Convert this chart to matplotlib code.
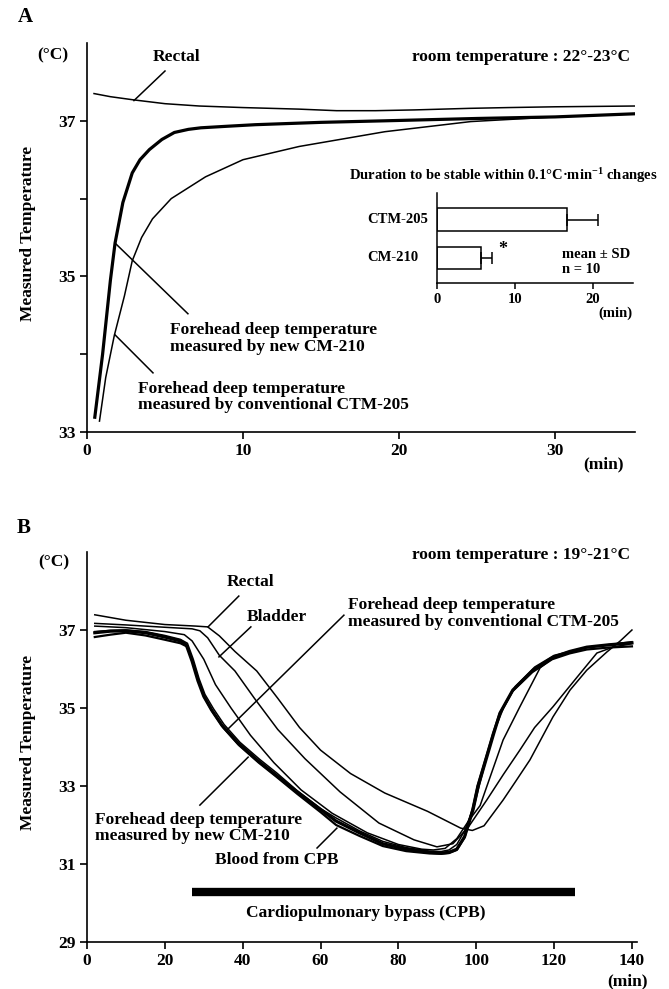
import matplotlib
matplotlib.use("Agg")
import matplotlib.pyplot as plt

plt.rcParams['font.family'] = ['Liberation Serif', 'DejaVu Serif']
plt.rcParams['font.weight'] = 'bold'
plt.rcParams['mathtext.fontset'] = 'custom'
plt.rcParams['mathtext.rm'] = 'Liberation Serif:bold'
plt.rcParams['mathtext.it'] = 'Liberation Serif:bold'
plt.rcParams['mathtext.default'] = 'rm'

# ---- panel A data (min, degC) ----
a_rectal_t = [0.45, 1.5, 2.95, 5.0, 7.2, 10.0, 13.6, 16.0, 18.5, 21.0, 24.5, 27.0, 30.0, 35.1]
a_rectal_y = [37.35, 37.31, 37.27, 37.22, 37.19, 37.17, 37.15, 37.13, 37.13, 37.14, 37.16, 37.17, 37.18, 37.19]
a_cm210_t = [0.5, 1.0, 1.5, 1.8, 2.3, 2.9, 3.4, 4.0, 4.8, 5.6, 6.5, 7.3, 9.0, 10.8, 15.0, 19.1, 25.0, 30.0, 35.1]
a_cm210_y = [33.19, 34.0, 34.95, 35.43, 35.95, 36.33, 36.5, 36.63, 36.76, 36.85, 36.89, 36.91, 36.93, 36.95, 36.98, 37.0, 37.03, 37.05, 37.09]
a_ctm205_t = [0.8, 1.2, 1.75, 2.4, 2.9, 3.5, 4.2, 5.4, 7.6, 10.0, 13.6, 19.1, 24.6, 30.0, 35.1]
a_ctm205_y = [33.14, 33.7, 34.24, 34.75, 35.2, 35.5, 35.74, 36.0, 36.28, 36.5, 36.67, 36.86, 36.99, 37.05, 37.09]

# inset: time to stabilise
inset_names = ['CM-210', 'CTM-205']
inset_mean = [5.6, 16.6]
inset_sd = [1.4, 4.0]

# ---- panel B data (min, degC) ----
b_rectal_t = [2, 10, 20, 28, 31, 34, 38, 43.6, 49, 54.6, 60, 67.7, 76.5, 87.5, 96, 99, 102, 106.9, 110,
              113.8, 119.7, 124.1, 128.4, 133.6, 137, 140]
b_rectal_y = [37.39, 37.25, 37.14, 37.1, 37.08, 36.85, 36.45, 35.95, 35.25, 34.5, 33.92, 33.32, 32.82, 32.35,
              31.92, 31.86, 31.98, 32.64, 33.1, 33.67, 34.77, 35.46, 35.97, 36.44, 36.72, 37.0]
b_bladder_t = [2, 10, 20, 27, 29, 31, 34, 38, 43, 49, 56, 65, 75, 84, 89.9, 94, 98, 102.7, 107, 111.2, 115,
               119.7, 125.9, 131, 135.1, 140]
b_bladder_y = [37.17, 37.13, 37.07, 37.03, 36.98, 36.8, 36.35, 35.95, 35.25, 34.45, 33.7, 32.85, 32.05, 31.62,
               31.44, 31.52, 31.95, 32.64, 33.3, 33.92, 34.5, 35.03, 35.79, 36.41, 36.56, 36.65]
b_other_t = [2, 10, 20, 25, 27, 30, 33, 37, 42, 48, 55, 63, 72, 80, 86, 89, 92, 95, 98, 101, 106.9, 111.2,
             116.4, 120, 128, 140]
b_other_y = [37.1, 37.06, 36.96, 36.88, 36.72, 36.25, 35.6, 35.0, 34.3, 33.6, 32.9, 32.3, 31.8, 31.5, 31.38,
             31.36, 31.4, 31.65, 32.1, 32.5, 34.18, 35.03, 36.03, 36.3, 36.55, 36.68]
b_ctm205_t = [2, 6, 10, 15, 20, 24, 25.8, 27.3, 28.8, 30.3, 32.5, 35.2, 39.3, 44.4, 48.8, 54, 60, 64,
              70, 76, 82, 88, 91, 93, 95, 97, 99.5, 101, 103, 105, 107, 110, 115, 120, 128, 140]
b_ctm205_y = [36.96, 36.99, 37.0, 36.96, 36.86, 36.76, 36.66, 36.25, 35.75, 35.35, 34.98, 34.58, 34.12, 33.68,
              33.33, 32.88, 32.42, 32.18, 31.85, 31.58, 31.42, 31.33, 31.32, 31.36, 31.5, 31.85, 32.5, 33.1,
              33.85, 34.5, 35.0, 35.55, 36.05, 36.35, 36.55, 36.7]
b_cm210_t = [2, 6, 10, 15, 20, 24, 25.5, 27, 28.5, 30, 32, 34.7, 38.8, 43.9, 48.3, 54, 60, 64, 70, 76, 82,
             88, 91, 93, 95, 97, 99.2, 100.5, 102.7, 104.5, 106.1, 109.4, 114.6, 119.7, 124, 128.4, 134, 140]
b_cm210_y = [36.93, 36.97, 36.98, 36.93, 36.82, 36.72, 36.62, 36.2, 35.7, 35.3, 34.95, 34.55, 34.1, 33.65,
             33.3, 32.85, 32.4, 32.1, 31.8, 31.52, 31.38, 31.3, 31.28, 31.3, 31.38, 31.7, 32.4, 33.0, 33.74,
             34.35, 34.87, 35.46, 35.97, 36.3, 36.45, 36.56, 36.62, 36.67]
b_blood_t = [2, 6, 10, 15, 20, 24, 25.8, 27.3, 28.8, 30.3, 32.3, 35.0, 39.0, 44.1, 48.5, 54, 60, 64, 70, 76,
             82, 88, 91, 93, 95, 97, 99, 100.3, 102.5, 104.3, 106, 109.2, 114.4, 119.5, 124, 128.4, 134, 140]
b_blood_y = [36.82, 36.88, 36.93, 36.86, 36.75, 36.66, 36.57, 36.15, 35.65, 35.25, 34.9, 34.5, 34.05, 33.6,
             33.25, 32.8, 32.33, 32.0, 31.72, 31.46, 31.33, 31.27, 31.26, 31.28, 31.36, 31.68, 32.4, 33.0,
             33.74, 34.35, 34.85, 35.42, 35.92, 36.25, 36.4, 36.5, 36.55, 36.58]
cpb_start, cpb_end, cpb_level = 26.9, 125.4, 30.29

W, H = 669, 989


def fx(px):
    return px / W


def fy(py):
    return 1 - py / H


fig = plt.figure(figsize=(W / 100, H / 100), dpi=100)


def style_axes(ax):
    for s in ['top', 'right']:
        ax.spines[s].set_visible(False)
    for s in ['left', 'bottom']:
        ax.spines[s].set_linewidth(1.2)
    ax.tick_params(direction='out', length=5, width=1.2, labelsize=12.5, pad=3)
    ax.tick_params(which='minor', direction='out', length=5, width=1.2)


# ================= panel A =================
axA = fig.add_axes([fx(87), fy(432), fx(635) - fx(87), fy(43) - fy(432)])
style_axes(axA)
axA.set_xlim(0, 35.13)
axA.set_ylim(33, 38)
axA.set_xticks([0, 10, 20, 30])
axA.set_yticks([33, 35, 37])
axA.set_yticks([34, 36], minor=True)

axA.plot(a_rectal_t, a_rectal_y, color='black', lw=1.1)
axA.plot(a_ctm205_t, a_ctm205_y, color='black', lw=1.1)
axA.plot(a_cm210_t, a_cm210_y, color='black', lw=2.3)

lead = dict(color='black', lw=1.1)
axA.plot([5.0, 3.01], [37.64, 37.26], **lead)
axA.plot([1.79, 6.47], [35.43, 34.52], **lead)
axA.plot([1.79, 4.23], [34.25, 33.76], **lead)
axA.text(5.77, 37.82, 'Rectal', ha='center', va='center', fontsize=12.5)
axA.text(34.8, 37.82, 'room temperature : 22°-23°C', ha='right', va='center', fontsize=12.5)
axA.text(5.32, 34.2, 'Forehead deep temperature\nmeasured by new CM-210', ha='left', va='center',
         fontsize=12.5, linespacing=1.05)
axA.text(3.27, 33.45, 'Forehead deep temperature\nmeasured by conventional CTM-205', ha='left',
         va='center', fontsize=12.5, linespacing=1.05)

fig.text(fx(25), fy(17), 'A', ha='center', va='center', fontsize=15)
fig.text(fx(53), fy(55), '(°C)', ha='center', va='center', fontsize=12.5)
fig.text(fx(28), fy(233), 'Measured Temperature', ha='center', va='center', rotation=90, fontsize=12.5)
fig.text(fx(603), fy(464), '(min)', ha='center', va='center', fontsize=12.5)

# inset bar chart
axI = fig.add_axes([fx(437), fy(283), fx(633) - fx(437), fy(193) - fy(283)])
for s in ['top', 'right']:
    axI.spines[s].set_visible(False)
for s in ['left', 'bottom']:
    axI.spines[s].set_linewidth(1.1)
axI.set_xlim(0, 25.1)
axI.set_ylim(0, 2.34)
bar_pos = [0.65, 1.65]
axI.barh(bar_pos, inset_mean, height=0.58, color='white', edgecolor='black', linewidth=1.1,
         xerr=[[0, 0], inset_sd], error_kw=dict(ecolor='black', elinewidth=1.1, capsize=4, capthick=1.1))
axI.set_yticks([])
axI.set_xticks([0, 10, 20])
axI.tick_params(direction='out', length=4, width=1.1, labelsize=10.5, pad=3)
for name, yy in zip(inset_names, bar_pos):
    fig.text(fx(367), fy(283 - yy * 38.5), name, ha='left', va='center', fontsize=10.5)
axI.text(8.46, 0.86, '*', ha='center', va='center', fontsize=13)
axI.text(16.0, 0.75, 'mean ± SD', ha='left', va='center', fontsize=10.5)
axI.text(16.0, 0.34, 'n = 10', ha='left', va='center', fontsize=10.5)
axI.text(22.8, -0.78, '(min)', ha='center', va='center', fontsize=10.5, clip_on=False)
fig.text(fx(503), fy(176), r'Duration to be stable within 0.1°C·min$^{-1}$ changes', ha='center',
         va='center', fontsize=10.5)

# ================= panel B =================
axB = fig.add_axes([fx(87), fy(942), fx(637) - fx(87), fy(552) - fy(942)])
style_axes(axB)
axB.set_xlim(0, 141.3)
axB.set_ylim(29, 39)
axB.set_xticks([0, 20, 40, 60, 80, 100, 120, 140])
axB.set_yticks([29, 31, 33, 35, 37])

axB.plot(b_rectal_t, b_rectal_y, color='black', lw=1.1)
axB.plot(b_bladder_t, b_bladder_y, color='black', lw=1.1)
axB.plot(b_other_t, b_other_y, color='black', lw=1.1)
axB.plot(b_ctm205_t, b_ctm205_y, color='black', lw=1.1)
axB.plot(b_blood_t, b_blood_y, color='black', lw=1.6)
axB.plot(b_cm210_t, b_cm210_y, color='black', lw=2.3)
axB.plot([cpb_start, cpb_end], [cpb_level, cpb_level], color='black', lw=6, solid_capstyle='butt')

axB.plot([39.0, 31.1], [37.87, 37.08], **lead)
axB.plot([42.1, 33.9], [37.08, 36.31], **lead)
axB.plot([66.0, 36.0], [37.38, 34.44], **lead)
axB.plot([29.0, 41.4], [32.51, 33.74], **lead)
axB.plot([59.1, 64.2], [31.41, 31.92], **lead)

axB.text(41.9, 38.23, 'Rectal', ha='center', va='center', fontsize=12.5)
axB.text(48.8, 37.33, 'Bladder', ha='center', va='center', fontsize=12.5)
axB.text(67.0, 37.42, 'Forehead deep temperature\nmeasured by conventional CTM-205', ha='left',
         va='center', fontsize=12.5, linespacing=1.05)
axB.text(2.05, 31.92, 'Forehead deep temperature\nmeasured by new CM-210', ha='left', va='center',
         fontsize=12.5, linespacing=1.05)
axB.text(48.8, 31.1, 'Blood from CPB', ha='center', va='center', fontsize=12.5)
axB.text(71.6, 29.74, 'Cardiopulmonary bypass (CPB)', ha='center', va='center', fontsize=12.5)
axB.text(139.5, 38.92, 'room temperature : 19°-21°C', ha='right', va='center', fontsize=12.5)

fig.text(fx(23.5), fy(528), 'B', ha='center', va='center', fontsize=15)
fig.text(fx(54), fy(562), '(°C)', ha='center', va='center', fontsize=12.5)
fig.text(fx(28), fy(742), 'Measured Temperature', ha='center', va='center', rotation=90, fontsize=12.5)
fig.text(fx(628), fy(981), '(min)', ha='center', va='center', fontsize=12.5)

fig.savefig('out.png', dpi=100, facecolor='white')
